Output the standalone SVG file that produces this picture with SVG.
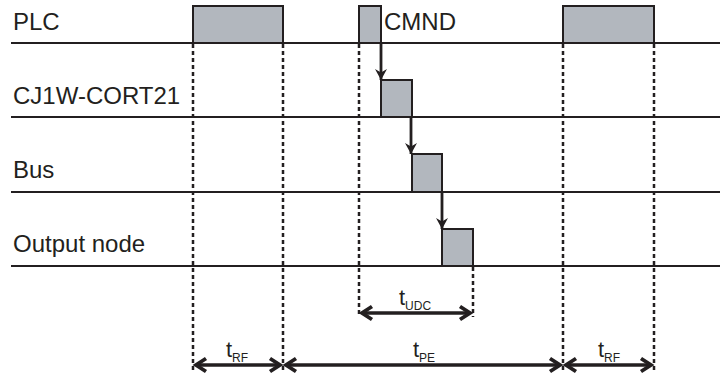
<svg xmlns="http://www.w3.org/2000/svg" width="720" height="375" viewBox="0 0 720 375">
<defs>
<style>
.lbl{font-family:"Liberation Sans",Arial,sans-serif;font-size:24px;fill:#231f20}
.t{font-family:"Liberation Sans",Arial,sans-serif;font-size:22px;fill:#231f20;text-anchor:middle}
.sub{font-size:12px}
.row{stroke:#231f20;stroke-width:2}
.dash{stroke:#231f20;stroke-width:2.5;stroke-dasharray:4 3;fill:none}
.box{fill:#b2b7be;stroke:#231f20;stroke-width:2}
.varr{stroke:#231f20;stroke-width:2.8;fill:none;marker-end:url(#dn)}
.harr{stroke:#231f20;stroke-width:3.5;fill:none;marker-start:url(#chev);marker-end:url(#chev)}
</style>
<marker id="dn" viewBox="-12 -7 14 14" markerWidth="14" markerHeight="14" refX="0" refY="0" orient="auto" markerUnits="userSpaceOnUse">
<path d="M-11,-6 L0,0 L-11,6 L-7.5,0 Z" fill="#231f20"/>
</marker>
<marker id="chev" viewBox="-14 -10 18 20" markerWidth="18" markerHeight="20" refX="0" refY="0" orient="auto-start-reverse" markerUnits="userSpaceOnUse">
<path d="M-10,-6.5 L0,0 L-10,6.5" fill="none" stroke="#231f20" stroke-width="3.8" stroke-linejoin="miter"/>
</marker>
</defs>
<rect width="720" height="375" fill="#fff"/>

<g id="rows">
<line class="row" x1="11" y1="43" x2="720" y2="43"/>
<line class="row" x1="11" y1="117" x2="720" y2="117"/>
<line class="row" x1="11" y1="192" x2="720" y2="192"/>
<line class="row" x1="11" y1="266" x2="720" y2="266"/>
</g>

<g id="gridlines">
<line class="dash" x1="193" y1="44" x2="193" y2="370"/>
<line class="dash" x1="283" y1="44" x2="283" y2="370"/>
<line class="dash" x1="359" y1="44" x2="359" y2="317"/>
<line class="dash" x1="473" y1="267" x2="473" y2="317"/>
<line class="dash" x1="563" y1="44" x2="563" y2="370"/>
<line class="dash" x1="654" y1="44" x2="654" y2="370"/>
</g>

<g id="label-plc"><text class="lbl" x="13" y="30">PLC</text></g>
<g id="label-cj1w"><text class="lbl" x="13" y="104">CJ1W-CORT21</text></g>
<g id="label-bus"><text class="lbl" x="13" y="178">Bus</text></g>
<g id="label-output"><text class="lbl" x="13" y="252">Output node</text></g>

<g id="plc-1"><rect class="box" x="193" y="6" width="90" height="37"/></g>
<g id="plc-cmnd"><rect class="box" x="359" y="6" width="22" height="37"/><text class="lbl" x="384" y="30">CMND</text></g>
<g id="plc-2"><rect class="box" x="563" y="6" width="91" height="37"/></g>
<g id="cj1w-box"><rect class="box" x="381" y="80" width="31" height="37"/></g>
<g id="bus-box"><rect class="box" x="412" y="154" width="30" height="38"/></g>
<g id="output-box"><rect class="box" x="442" y="229" width="31" height="37"/></g>

<g id="connectors">
<line class="varr" x1="381" y1="43" x2="381" y2="80"/>
<line class="varr" x1="411" y1="117" x2="411" y2="154"/>
<line class="varr" x1="442" y1="192" x2="442" y2="229"/>
<line class="harr" x1="196" y1="365" x2="280" y2="365"/>
<line class="harr" x1="286" y1="365" x2="560" y2="365"/>
<line class="harr" x1="566" y1="365" x2="651" y2="365"/>
<line class="harr" x1="362" y1="313" x2="470" y2="313"/>
</g>

<g id="time-labels">
<text class="t" x="415" y="305">t<tspan class="sub" dy="5">UDC</tspan></text>
<text class="t" x="237" y="357">t<tspan class="sub" dy="5">RF</tspan></text>
<text class="t" x="424" y="357">t<tspan class="sub" dy="5">PE</tspan></text>
<text class="t" x="609" y="357">t<tspan class="sub" dy="5">RF</tspan></text>
</g>
</svg>
